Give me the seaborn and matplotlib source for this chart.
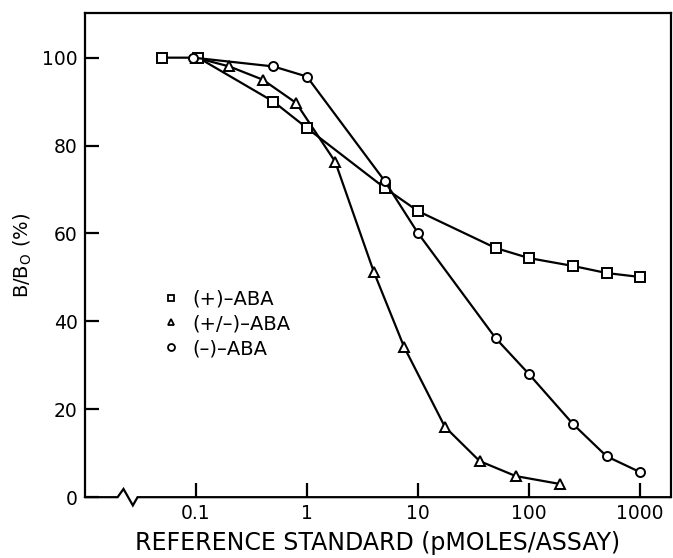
import pandas as pd
import matplotlib
matplotlib.use('Agg')
import matplotlib.pyplot as plt
from matplotlib.lines import Line2D
import seaborn as sns

# values
plus_x = [0.05, 0.105, 0.5, 1, 5, 10, 50, 100, 250, 500, 1000]
plus_y = [100, 100, 90, 84, 70.4, 65.1, 56.7, 54.4, 52.6, 51, 50.1]

racemic_x = [0.1, 0.2, 0.4, 0.8, 1.8, 4, 7.5, 17.5, 36, 76, 190]
racemic_y = [100, 98, 95, 89.7, 76.3, 51.3, 34.2, 16, 8.2, 4.8, 3]

minus_x = [0.095, 0.5, 1, 5, 10, 50, 100, 250, 500, 1000]
minus_y = [100, 98, 95.7, 72, 60.1, 36.2, 28, 16.6, 9.3, 5.7]

series_names = ['(+)\u2013ABA', '(+/\u2013)\u2013ABA', '(\u2013)\u2013ABA']
series_markers = ['s', '^', 'o']

xticks = [0.1, 1, 10, 100, 1000]
xtick_labels = ['0.1', '1', '10', '100', '1000']
yticks = [0, 20, 40, 60, 80, 100]

df = pd.concat([
    pd.DataFrame({'conc': plus_x, 'bb0': plus_y, 'series': series_names[0]}),
    pd.DataFrame({'conc': racemic_x, 'bb0': racemic_y, 'series': series_names[1]}),
    pd.DataFrame({'conc': minus_x, 'bb0': minus_y, 'series': series_names[2]}),
])

sns.set_style('ticks')
plt.rcParams['font.family'] = ['DejaVu Sans']
plt.rcParams['text.color'] = 'black'
plt.rcParams['axes.labelcolor'] = 'black'
plt.rcParams['xtick.color'] = 'black'
plt.rcParams['ytick.color'] = 'black'

fig = plt.figure(figsize=(6.73, 5.58), dpi=100)
ax = fig.add_axes([0.126, 0.109, 0.871, 0.868])

# draw racemic first so the overlapping start points stay readable
for name, marker in zip([series_names[1], series_names[0], series_names[2]], ['^', 's', 'o']):
    sub = df[df['series'] == name]
    sns.lineplot(data=sub, x='conc', y='bb0', ax=ax, color='black', lw=1.6,
                 marker=marker, markersize=6.5, markerfacecolor='white',
                 markeredgecolor='black', markeredgewidth=1.4, legend=False,
                 errorbar=None, zorder=3)

ax.set_xscale('log')
ax.set_xlim(0.01, 1900)
ax.set_ylim(0, 110.2)
ax.set_xticks(xticks)
ax.set_xticklabels(xtick_labels)
ax.minorticks_off()
ax.set_yticks(yticks)
ax.tick_params(direction='in', length=10, width=1.6, labelsize=13.5, pad=5)

for side in ['top', 'right', 'left']:
    ax.spines[side].set_linewidth(1.6)
    ax.spines[side].set_color('black')
ax.spines['bottom'].set_visible(False)

# bottom axis line with a break
bx = [0, 0.056, 0.066, 0.082, 0.090, 1]
by = [0, 0, 0.017, -0.017, 0, 0]
ax.plot(bx, by, transform=ax.transAxes, color='black', lw=1.6, clip_on=False,
        solid_joinstyle='miter', zorder=5)

ax.set_xlabel('REFERENCE STANDARD (pMOLES/ASSAY)', fontsize=17, labelpad=6)
ax.set_ylabel('B/B$_{\\mathregular{O}}$ (%)', fontsize=14, labelpad=6)

handles = [Line2D([], [], ls='none', marker=m, markersize=5, markerfacecolor='white',
                  markeredgecolor='black', markeredgewidth=1.3) for m in series_markers]
ax.legend(handles, series_names, loc='upper left', bbox_to_anchor=(0.1, 0.465),
          frameon=False, fontsize=14, handlelength=1.0, handletextpad=0.6,
          labelspacing=0.3)

fig.savefig('out.png', dpi=100)
